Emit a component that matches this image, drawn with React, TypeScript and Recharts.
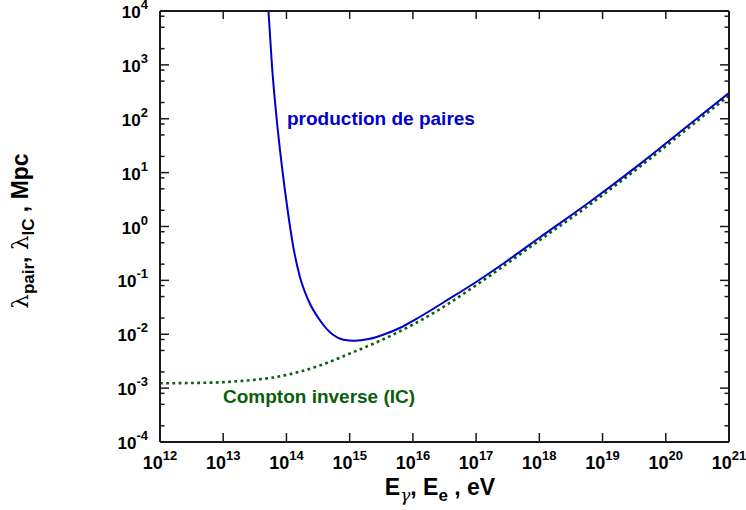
import React from 'react';
import { LineChart, Line, XAxis, YAxis } from 'recharts';

// Pair production mean free path (solid blue): energy in eV, lambda in Mpc
const pairEnergy = [4.9e13, 5.2e13, 5.89e13, 7.0e13, 8.51e13, 1.06e14, 1.27e14, 1.63e14, 2.2e14, 3.36e14, 5.45e14, 7.94e14, 1.2e15, 2.0e15, 3.39e15, 6.31e15, 1.12e16, 3.8e16, 1e17, 3.16e17, 1e18, 6.17e18, 3.8e19, 2.34e20, 1e21];
const pairLambda = [3.2e4, 1.0e4, 1.0e3, 100, 12.6, 1.78, 0.447, 0.117, 0.0437, 0.0184, 0.00977, 0.00794, 0.00759, 0.00813, 0.00977, 0.0132, 0.0191, 0.0457, 0.0933, 0.234, 0.617, 2.82, 14.1, 77.6, 302];

// Inverse Compton mean free path (dotted green)
const icEnergy = [1e12, 3.16e12, 1e13, 3.16e13, 6.31e13, 1.58e14, 3.98e14, 1e15, 3.16e15, 1e16, 3.16e16, 1e17, 3.16e17, 1e18, 6.17e18, 3.8e19, 2.34e20, 1e21];
const icLambda = [1.23e-3, 1.245e-3, 1.29e-3, 1.43e-3, 1.58e-3, 2.0e-3, 2.82e-3, 4.37e-3, 7.76e-3, 0.0151, 0.0331, 0.0813, 0.209, 0.55, 2.51, 12.6, 69.2, 269];

const xTickExponents = [12, 13, 14, 15, 16, 17, 18, 19, 20, 21];
const yTickExponents = [-4, -3, -2, -1, 0, 1, 2, 3, 4];
const yMinorMantissas = [2, 5, 8];

const pairData = pairEnergy.map((e, i) => ({ e, l: pairLambda[i] }));
const icData = icEnergy.map((e, i) => ({ e, l: icLambda[i] }));

const xTicks = xTickExponents.map((k) => Number(`1e${k}`));
const yMajor = yTickExponents.map((k) => Number(`1e${k}`));
const yMinor = yTickExponents.slice(0, -1).flatMap((k) => yMinorMantissas.map((m) => Number(`${m}e${k}`)));
const yTicks = [...yMajor, ...yMinor].sort((a, b) => a - b);

const FONT = '"Liberation Sans", Arial, Helvetica, sans-serif';
const GREEK = '"DejaVu Serif", "Liberation Serif", serif';
const AXIS = '#1a1a1a';
const BLUE = '#0000cc';
const GREEN = '#0b5e0b';

const isMajor = (v: number) => Math.abs(Math.log10(v) - Math.round(Math.log10(v))) < 1e-6;
const expOf = (v: number) => Math.round(Math.log10(v));

const BottomTick = (props: any) => {
  const { x, y, payload } = props;
  return (
    <g>
      <line x1={x} x2={x} y1={y} y2={y - 9} stroke={AXIS} strokeWidth={1.5} />
      <text x={x} y={y + 27} textAnchor="middle" fontFamily={FONT} fontWeight="bold" fontSize={18} fill="#000">
        10<tspan dy={-9} fontSize={13}>{expOf(payload.value)}</tspan>
      </text>
    </g>
  );
};

const TopTick = (props: any) => {
  const { x, y } = props;
  return <line x1={x} x2={x} y1={y} y2={y + 8} stroke={AXIS} strokeWidth={1.5} />;
};

const LeftTick = (props: any) => {
  const { x, y, payload } = props;
  const major = isMajor(payload.value);
  return (
    <g>
      <line x1={x} x2={x + (major ? 9 : 4.5)} y1={y} y2={y} stroke={AXIS} strokeWidth={1.5} />
      {major && (
        <text x={x - 12} y={y + 7} textAnchor="end" fontFamily={FONT} fontWeight="bold" fontSize={17} fill="#000">
          10<tspan dy={-9} fontSize={13}>{expOf(payload.value)}</tspan>
        </text>
      )}
    </g>
  );
};

const RightTick = (props: any) => {
  const { x, y, payload } = props;
  const major = isMajor(payload.value);
  return <line x1={x} x2={x - (major ? 9 : 4.5)} y1={y} y2={y} stroke={AXIS} strokeWidth={1.5} />;
};

export default function App() {
  return (
    <div style={{ position: 'absolute', left: 0, top: 0 }}>
      <LineChart width={746} height={510} margin={{ top: 0, right: 0, bottom: 0, left: 0 }}>
        <XAxis
          dataKey="e"
          type="number"
          scale="log"
          domain={[1e12, 1e21]}
          ticks={xTicks}
          interval={0}
          allowDataOverflow
          height={68}
          tickSize={0}
          tickMargin={0}
          tick={<BottomTick />}
          axisLine={{ stroke: AXIS, strokeWidth: 2 }}
        />
        <XAxis
          xAxisId="t"
          orientation="top"
          dataKey="e"
          type="number"
          scale="log"
          domain={[1e12, 1e21]}
          ticks={xTicks}
          interval={0}
          allowDataOverflow
          height={11}
          tickSize={0}
          tickMargin={0}
          tick={<TopTick />}
          axisLine={{ stroke: AXIS, strokeWidth: 2 }}
        />
        <YAxis
          dataKey="l"
          type="number"
          scale="log"
          domain={[1e-4, 1e4]}
          ticks={yTicks}
          interval={0}
          allowDataOverflow
          width={160}
          tickSize={0}
          tickMargin={0}
          tick={<LeftTick />}
          axisLine={{ stroke: AXIS, strokeWidth: 2 }}
        />
        <YAxis
          yAxisId="r"
          orientation="right"
          dataKey="l"
          type="number"
          scale="log"
          domain={[1e-4, 1e4]}
          ticks={yTicks}
          interval={0}
          allowDataOverflow
          width={17}
          tickSize={0}
          tickMargin={0}
          tick={<RightTick />}
          axisLine={{ stroke: AXIS, strokeWidth: 2 }}
        />
        <Line
          data={icData}
          dataKey="l"
          type="monotone"
          stroke={GREEN}
          strokeWidth={2.6}
          strokeDasharray="2.8 3.4"
          dot={false}
          isAnimationActive={false}
        />
        <Line
          data={pairData}
          dataKey="l"
          type="monotone"
          stroke={BLUE}
          strokeWidth={2}
          dot={false}
          isAnimationActive={false}
        />
        <text x={287} y={125} fontFamily={FONT} fontWeight="bold" fontSize={19} fill={BLUE}>
          production de paires
        </text>
        <text x={223} y={403} fontFamily={FONT} fontWeight="bold" fontSize={19} fill={GREEN}>
          Compton inverse (IC)
        </text>
        <text x={440} y={495} textAnchor="middle" fontFamily={FONT} fontWeight="bold" fontSize={23} fill="#000">
          E<tspan dy={6} fontSize={17} fontFamily={GREEK} fontStyle="italic" fontWeight="normal">γ</tspan>
          <tspan dy={-6}>, E</tspan>
          <tspan dy={6} fontSize={17}>e</tspan>
          <tspan dy={-6}> , eV</tspan>
        </text>
        <text transform="translate(28,231) rotate(-90)" textAnchor="middle" fontFamily={FONT} fontWeight="bold" fontSize={23} fill="#000">
          <tspan fontFamily={GREEK} fontWeight="normal">λ</tspan>
          <tspan dy={6} fontSize={17}>pair</tspan>
          <tspan dy={-6}>, </tspan>
          <tspan fontFamily={GREEK} fontWeight="normal">λ</tspan>
          <tspan dy={6} fontSize={17}>IC</tspan>
          <tspan dy={-6}> , Mpc</tspan>
        </text>
      </LineChart>
    </div>
  );
}
